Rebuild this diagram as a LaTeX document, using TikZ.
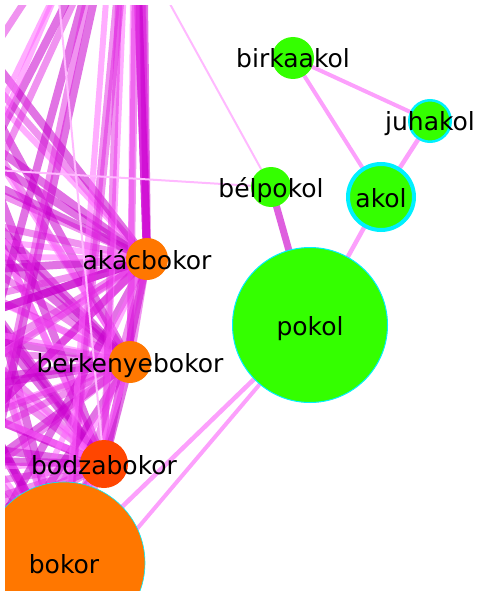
\documentclass[tikz,border=0pt]{standalone}
\usepackage{fontspec}
\setmainfont{DejaVu Sans}
\definecolor{fanc}{RGB}{200,0,205}
\definecolor{fanm}{RGB}{225,40,225}
\definecolor{fanl}{RGB}{255,105,255}
\definecolor{pinke}{RGB}{252,160,252}
\definecolor{thine}{RGB}{255,185,255}
\definecolor{darke}{RGB}{222,95,222}
\definecolor{leaf}{RGB}{52,255,0}
\definecolor{ring}{RGB}{0,240,255}
\definecolor{bush}{RGB}{255,119,0}
\definecolor{elder}{RGB}{255,70,0}
\pgfdeclarelayer{bg}
\pgfsetlayers{bg,main}
\begin{document}
\begin{tikzpicture}[x=1pt,y=-1pt,
  bubble/.style={circle,inner sep=0pt,outer sep=0pt},
  word/.style={inner sep=0pt,text height=20pt,text depth=0pt,
    font=\fontsize{25}{30}\selectfont},
  fa/.style={draw=fanc,line width=8pt,opacity=.55},
  fb/.style={draw=fanm,line width=7pt,opacity=.5},
  fc/.style={draw=fanl,line width=6pt,opacity=.55},
  pinkedge/.style={draw=pinke,line width=4.5pt},
  thinedge/.style={draw=thine,line width=2pt},
  darkedge/.style={draw=darke,line width=7pt}]
\useasboundingbox (0,0) rectangle (483,591);

% nodes of the word graph
\begin{scope}
\clip (5,6) rectangle (483,591);
\node[bubble,fill=bush,draw=ring,line width=.6pt,minimum size=162pt] (bokor) at (64,563) {};
\node[bubble,fill=elder,minimum size=48pt] (bodza) at (104,464) {};
\node[bubble,fill=bush,minimum size=42pt] (berk) at (130,362) {};
\node[bubble,fill=bush,minimum size=42pt] (akac) at (147,259) {};
\node[bubble,fill=leaf,draw=ring,line width=1pt,minimum size=155pt] (pokol) at (310,325) {};
\node[bubble,fill=leaf,draw=ring,line width=4pt,minimum size=66pt] (akol) at (381,197) {};
\node[bubble,fill=leaf,draw=ring,line width=2.5pt,minimum size=41.5pt] (juh) at (430,121) {};
\node[bubble,fill=leaf,minimum size=40pt] (belp) at (271,187) {};
\node[bubble,fill=leaf,minimum size=42pt] (birka) at (293,58) {};

\node[word] (bokor-l) at (bokor) {bokor};
\node[word] (bodza-l) at (bodza) {bodzabokor};
\node[word] (berk-l) at (berk) {berkenyebokor};
\node[word] (akac-l) at (akac) {akácbokor};
\node[word] (pokol-l) at (pokol) {pokol};
\node[word] (akol-l) at (akol) {akol};
\node[word] (juh-l) at (juh) {juhakol};
\node[word] (belp-l) at (belp) {bélpokol};
\node[word] (birka-l) at (birka) {birkaakol};
\end{scope}

% neighbours lying outside the frame: above
\coordinate (A1) at (134,-130);
\coordinate (A2) at (138,-200);
\coordinate (A3) at (130,-160);
\coordinate (A4) at (141,-260);
\coordinate (A5) at (136,-400);
\coordinate (A6) at (128,-300);
% upper left
\coordinate (B1) at (-150,-80);
\coordinate (B2) at (-260,-40);
\coordinate (B3) at (-120,-20);
\coordinate (B4) at (-220,30);
\coordinate (B5) at (-350,40);
\coordinate (B6) at (-100,-60);
% left
\coordinate (C1) at (-200,90);
\coordinate (C2) at (-300,160);
\coordinate (C3) at (-180,220);
\coordinate (C4) at (-320,290);
\coordinate (C5) at (-200,340);
\coordinate (C6) at (-300,410);
\coordinate (C7) at (-180,470);
\coordinate (C8) at (-320,530);
\coordinate (C9) at (-200,600);
\coordinate (C10) at (-280,680);
\coordinate (C11) at (-120,740);
\coordinate (C12) at (-60,700);
\coordinate (C13) at (-400,250);
\coordinate (C14) at (-420,450);
\coordinate (C15) at (-400,620);
% other far neighbours
\coordinate (D1) at (55,-40);
\coordinate (P1) at (85,-150);
\coordinate (P2) at (-200,158);
\coordinate (Q) at (30,655);

% edges, under the nodes
\begin{pgfonlayer}{bg}
\clip (5,6) rectangle (483,591);
\foreach \o/\s in {B1/fb,B2/fa,B3/fc,B4/fa,B5/fb,B6/fa,
                   C1/fa,C2/fb,C3/fc,C4/fa,C5/fb,C6/fa,C7/fc,C8/fb,
                   C9/fa,C10/fb,C11/fa,C12/fc,C13/fc,C14/fa,C15/fb}
  \foreach \v in {akac,berk,bodza,bokor}
    \draw[\s] (\o) -- (\v.center);
\foreach \o/\s in {A1/fa,A2/fb,A3/fc,A4/fa,A5/fb,A6/fa}
  \draw[\s] (\o) -- (akac.center);
\foreach \a/\b/\s in {A1/berk/fc,A2/berk/fb,A3/bodza/fc,A4/bokor/fb,
                      A1/bokor/fb,A5/bokor/fc,A6/bodza/fb,A2/C12/fa}
  \draw[\s] (\a) -- (\b.center);
\foreach \a/\b/\s in {akac/berk/fb,akac/bodza/fa,akac/bokor/fb,
                      berk/bodza/fa,berk/bokor/fc,bodza/bokor/fb}
  \draw[\s] (\a.center) -- (\b.center);
\foreach \a/\b/\s in {A1/C9/fb,A3/C10/fc,A2/C11/fa,A4/C12/fb,
                      A1/C10/fa,A3/C8/fb,A2/C9/fc}
  \draw[\s] (\a) -- (\b);
\draw[thinedge] (D1) -- (bodza.center);
\draw[thinedge] (P1) -- (belp.center);
\draw[thinedge] (P2) -- (belp.center);
\draw[darkedge] (belp.center) -- (pokol.center);
\draw[pinkedge] (akol.center) -- (pokol.center);
\draw[pinkedge] (akol.center) -- (juh.center);
\draw[pinkedge,line width=4pt] (akol.center) -- (birka.center);
\draw[pinkedge,line width=4pt] (birka.center) -- (juh.center);
\draw[pinkedge] (bokor.center) -- (pokol.center);
\draw[pinkedge,line width=4pt] (Q) -- (pokol.center);
\end{pgfonlayer}
\end{tikzpicture}
\end{document}
